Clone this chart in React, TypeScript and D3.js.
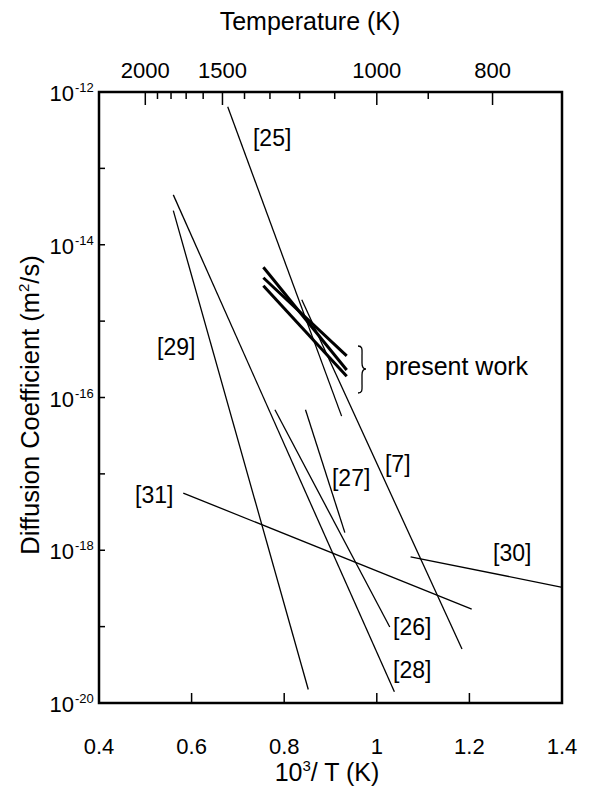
import React from "react";
import * as d3 from "d3";

// ---- data ----
const xTicks = [0.4, 0.6, 0.8, 1.0, 1.2, 1.4];
const xTickLabels = ["0.4", "0.6", "0.8", "1", "1.2", "1.4"];
const yExponents = [-12, -14, -16, -18, -20];
const yMinorExponents = [-13, -15, -17, -19];
const tempMajor = [2000, 1500, 1000, 800];
const tempMinor = [1900, 1800, 1700, 1600, 1400, 1300, 1200, 1100, 900];

// literature lines: [x1, D1, x2, D2] with x = 1000/T
const refNames = ["[25]", "[7]", "[27]", "[26]", "[28]", "[29]", "[31]", "[30]"];
const refX1 = [0.678, 0.838, 0.846, 0.780, 0.5605, 0.5605, 0.582, 1.073];
const refD1 = [6.4e-13, 1.9e-15, 6.9e-17, 6.9e-17, 4.5e-14, 2.8e-14, 5.6e-18, 8.2e-19];
const refX2 = [0.924, 1.184, 0.931, 1.028, 1.038, 0.852, 1.205, 1.398];
const refD2 = [5.7e-17, 5.1e-20, 1.7e-18, 9.9e-20, 1.4e-20, 1.5e-20, 1.7e-19, 3.3e-19];

// present work lines
const presX1 = [0.755, 0.755, 0.755];
const presD1 = [5.07e-15, 3.7e-15, 2.9e-15];
const presX2 = [0.935, 0.935, 0.935];
const presD2 = [2.29e-16, 3.5e-16, 1.9e-16];

// label positions (data coords of text start/baseline)
const labelText = ["[25]", "[29]", "[27]", "[7]", "[31]", "[30]", "[26]", "[28]"];
const labelX = [0.7326, 0.5253, 0.9032, 1.0177, 0.4778, 1.251, 1.035, 1.035];
const labelD = [1.96e-13, 3.6e-16, 6.9e-18, 1.06e-17, 4.2e-18, 7.2e-19, 7.8e-20, 2.1e-20];

const FONT = "'Liberation Sans', Arial, Helvetica, sans-serif";

export default function App() {
  const W = 593, H = 790;
  const left = 99, right = 562, top = 92, bottom = 703;
  const x = d3.scaleLinear().domain([0.4, 1.4]).range([left, right]);
  const y = d3.scaleLog().domain([1e-12, 1e-20]).range([top, bottom]);
  const line = d3.line<[number, number]>().x((d) => x(d[0])).y((d) => y(d[1]));

  return (
    <svg
      width={W}
      height={H}
      style={{ position: "absolute", left: 0, top: 0, background: "#fff" }}
      fontFamily={FONT}
    >
      <rect x={0} y={0} width={W} height={H} fill="#fff" />
      {/* literature lines */}
      {refNames.map((n, i) => (
        <path
          key={n}
          d={line([
            [refX1[i], refD1[i]],
            [refX2[i], refD2[i]],
          ]) || ""}
          stroke="#000"
          strokeWidth={1.3}
          fill="none"
        />
      ))}
      {/* present work */}
      {presX1.map((_, i) => (
        <path
          key={"p" + i}
          d={line([
            [presX1[i], presD1[i]],
            [presX2[i], presD2[i]],
          ]) || ""}
          stroke="#000"
          strokeWidth={3}
          fill="none"
        />
      ))}
      {/* labels */}
      {labelText.map((t, i) => (
        <text key={t} x={x(labelX[i])} y={y(labelD[i])} fontSize={23} fill="#000">
          {t}
        </text>
      ))}
      {/* brace */}
      <path
        d={`M358,346 C363,346 362,350 362,356 L362,363 C362,367 363,369 366,369 C363,369 362,371 362,375 L362,383 C362,389 363,393 358,393`}
        stroke="#000"
        strokeWidth={1.3}
        fill="none"
      />
      <text x={385} y={375} fontSize={25} fill="#000">
        present work
      </text>

      {/* frame */}
      <rect
        x={left}
        y={top}
        width={right - left}
        height={bottom - top}
        fill="none"
        stroke="#000"
        strokeWidth={2.5}
      />
      {/* bottom ticks */}
      {xTicks.slice(1, -1).map((v) => (
        <line key={"bx" + v} x1={x(v)} x2={x(v)} y1={bottom} y2={bottom - 10} stroke="#000" strokeWidth={1.5} />
      ))}
      {xTicks.map((v, i) => (
        <text key={"bl" + v} x={x(v)} y={754} fontSize={22} textAnchor="middle">
          {xTickLabels[i]}
        </text>
      ))}
      <text x={327} y={781} fontSize={25} textAnchor="middle">
        10<tspan dy={-10} fontSize={15}>3</tspan>
        <tspan dy={10}>/ T (K)</tspan>
      </text>
      {/* left ticks */}
      {[...yExponents.slice(1, -1), ...yMinorExponents].map((e) => (
        <line key={"ly" + e} x1={left} x2={left + 6} y1={y(Math.pow(10, e))} y2={y(Math.pow(10, e))} stroke="#000" strokeWidth={1.5} />
      ))}
      {yExponents.map((e) => (
        <g key={"yl" + e}>
          <text x={74} y={y(Math.pow(10, e)) + 9} fontSize={22} textAnchor="end">
            10
          </text>
          <text x={75} y={y(Math.pow(10, e))} fontSize={13} textAnchor="start">
            {"-" + Math.abs(e)}
          </text>
        </g>
      ))}
      <text
        transform={`translate(39,405) rotate(-90)`}
        fontSize={25.5}
        textAnchor="middle"
      >
        Diffusion Coefficient (m<tspan dy={-10} fontSize={15}>2</tspan>
        <tspan dy={10}>/s)</tspan>
      </text>
      {/* top temperature axis */}
      {tempMajor.map((t) => (
        <g key={"tm" + t}>
          <line x1={x(1000 / t)} x2={x(1000 / t)} y1={top} y2={top + 13} stroke="#000" strokeWidth={1.5} />
          <text x={x(1000 / t)} y={78} fontSize={22} textAnchor="middle">
            {t}
          </text>
        </g>
      ))}
      {tempMinor.map((t) => (
        <line key={"tn" + t} x1={x(1000 / t)} x2={x(1000 / t)} y1={top} y2={top + 7} stroke="#000" strokeWidth={1.5} />
      ))}
      <text x={310} y={30} fontSize={25} textAnchor="middle">
        Temperature (K)
      </text>
    </svg>
  );
}
